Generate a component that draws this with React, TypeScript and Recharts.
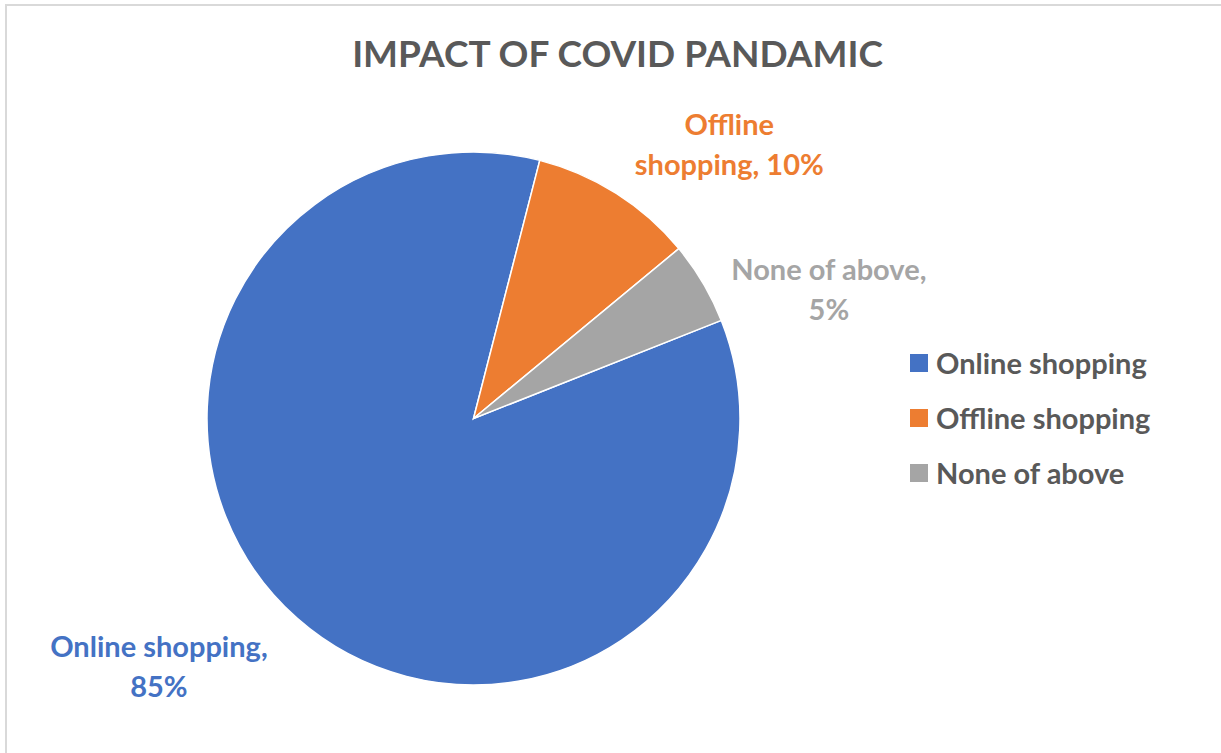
import { PieChart, Pie, Cell, Legend } from 'recharts'

const categories = ['Online shopping', 'Offline shopping', 'None of above']
const shares = [85, 10, 5]
const sliceColors = ['#4472C4', '#ED7D31', '#A5A5A5']
const labelLines = [
  ['Online shopping,', '85%'],
  ['Offline', 'shopping, 10%'],
  ['None of above,', '5%'],
]

const TEXT_GRAY = '#595959'
const FONT = 'Lato, "Open Sans", sans-serif'
const W = 1221
const H = 753

// Excel "best fit" labels sit a bit behind the slice middle
const LABEL_SHIFT = -10.5
const labelRadius = [1.5, 1.41, 1.42]

const data = categories.map((name, i) => ({ name, value: shares[i] }))

const RAD = Math.PI / 180

function SliceLabel(props: any) {
  const { cx, cy, midAngle, outerRadius, index } = props
  const r = outerRadius * labelRadius[index]
  const a = (midAngle + LABEL_SHIFT) * RAD
  const x = cx + Math.cos(-a) * r
  const y = cy + Math.sin(-a) * r
  const lines = labelLines[index]
  return (
    <text
      x={x}
      y={y}
      textAnchor="middle"
      fill={sliceColors[index]}
      fontFamily={FONT}
      fontWeight={700}
      fontSize={29}
    >
      {lines.map((line, k) => (
        <tspan key={k} x={x} y={y - 20 + k * 40} dominantBaseline="central">
          {line}
        </tspan>
      ))}
    </text>
  )
}

function LegendList({ payload }: any) {
  const items = [...(payload ?? [])].sort(
    (a: any, b: any) => categories.indexOf(a.value) - categories.indexOf(b.value)
  )
  return (
    <div style={{ fontFamily: FONT, fontWeight: 700, fontSize: 29, color: TEXT_GRAY }}>
      {items.map((item: any, i: number) => (
        <div key={i} style={{ display: 'flex', alignItems: 'center', height: 55 }}>
          <span style={{ width: 18, height: 18, background: item.color, marginRight: 8, display: 'inline-block' }} />
          <span>{item.value}</span>
        </div>
      ))}
    </div>
  )
}

export default function App() {
  return (
    <div style={{ position: 'absolute', left: 0, top: 0, width: W, height: H, background: '#ffffff' }}>
      <div
        style={{
          position: 'absolute',
          left: 5,
          top: 4,
          right: 0,
          bottom: 0,
          borderTop: '2px solid #d9d9d9',
          borderLeft: '2px solid #d9d9d9',
        }}
      />
      <div
        style={{
          position: 'absolute',
          left: 0,
          width: 1235,
          top: 28,
          textAlign: 'center',
          fontFamily: FONT,
          fontWeight: 700,
          fontSize: 37,
          color: TEXT_GRAY,
          lineHeight: '50px',
        }}
      >
        IMPACT OF COVID PANDAMIC
      </div>
      <PieChart
        width={W}
        height={H}
        margin={{ top: 0, right: 0, bottom: 0, left: 0 }}
        style={{ position: 'absolute', left: 0, top: 0 }}
      >
        <Pie
          data={data}
          dataKey="value"
          nameKey="name"
          cx={473.5}
          cy={418.5}
          outerRadius={266.5}
          startAngle={21.6}
          endAngle={-338.4}
          stroke="#ffffff"
          strokeWidth={1.5}
          label={SliceLabel}
          labelLine={false}
          isAnimationActive={false}
        >
          {data.map((d, i) => (
            <Cell key={d.name} fill={sliceColors[i]} />
          ))}
        </Pie>
        <Legend
          layout="vertical"
          content={LegendList}
          wrapperStyle={{ left: 910, top: 335, width: 300 }}
        />
      </PieChart>
    </div>
  )
}
